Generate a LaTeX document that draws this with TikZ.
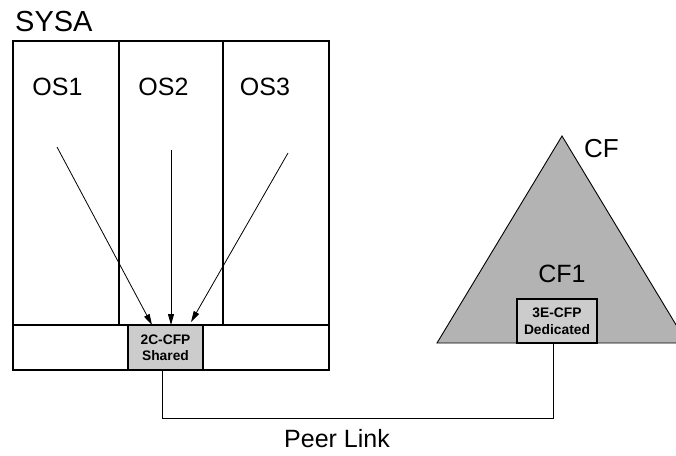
\documentclass[tikz,border=0pt]{standalone}
\usepackage{fontspec}
\setmainfont{Liberation Sans}
\usetikzlibrary{arrows.meta}
\definecolor{trigray}{HTML}{B3B3B3}
\definecolor{boxgray}{HTML}{CCCCCC}
\begin{document}
\begin{tikzpicture}[x=1pt,y=-1pt,
  frame/.style={draw=black,line width=1.1pt},
  cfpbox/.style={draw=black,line width=1.1pt,fill=boxgray,inner sep=0pt,
     font=\fontsize{13.8}{16.5}\selectfont\bfseries,align=center},
  big/.style={font=\fontsize{25}{30}\selectfont,inner sep=0pt},
  conn/.style={draw=black,line width=0.8pt},
  arr/.style={conn,-{Triangle[length=11pt,width=6pt]}}]
\useasboundingbox (0,0) rectangle (676,455);
\begin{scope}
\clip (0,0) rectangle (676,455);
% systems
\draw[frame] (13,41) rectangle (329,325);
\draw[frame] (119,41) -- (119,325);
\draw[frame] (223,41) -- (223,325);
\draw[frame] (13,325) rectangle (329,370);
\node[cfpbox,minimum width=75pt,minimum height=45pt] (cfp2) at (165.5,347.5) {2C-CFP\\Shared};
% CF triangle
\path[draw=black,line width=0.9pt,fill=trigray] (562,136) -- (687,343) -- (437,343) -- cycle;
\node[cfpbox,minimum width=80pt,minimum height=44pt] (cfp3) at (557,321) {3E-CFP\\Dedicated};
\end{scope}
% labels
\node[big,anchor=base west,font=\fontsize{29}{34}\selectfont] (sysa) at (15,31) {SYSA};
\node[big,anchor=base] (os1) at (57.5,95) {OS1};
\node[big,anchor=base] (os2) at (163.5,95) {OS2};
\node[big,anchor=base] (os3) at (265,95) {OS3};
\node[big,anchor=base west,font=\fontsize{26}{30}\selectfont] (cf) at (584,157) {CF};
\node[big,anchor=base] (cf1) at (562,282) {CF1};
\node[big,anchor=base] (peer) at (337,447) {Peer Link};
% arrows
\coordinate (a1) at (57,147);
\coordinate (a2) at (171,150);
\coordinate (a3) at (288,153);
\coordinate (t1) at (152,325);
\coordinate (t2) at (171,325);
\coordinate (t3) at (191,322);
\draw[arr] (a1) -- (t1);
\draw[arr] (a2) -- (t2);
\draw[arr] (a3) -- (t3);
% peer link
\draw[conn] (cfp2.south -| 162,0) -- (162,418) -- (553,418) -- (cfp3.south -| 553,0);
\end{tikzpicture}
\end{document}
